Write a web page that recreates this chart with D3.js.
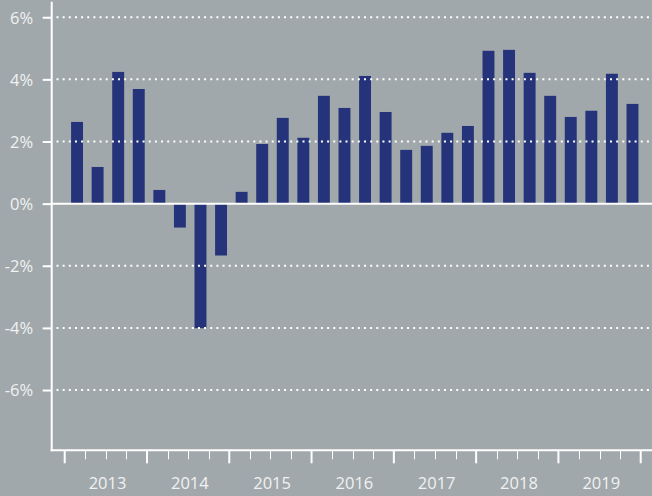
<!DOCTYPE html>
<html>
<head>
<meta charset="utf-8">
<script src="https://cdn.jsdelivr.net/npm/d3@7"></script>
<style>
  body { margin: 0; background: #a1a8ab; }
  svg { display: block; }
  text { font-family: "Open Sans", sans-serif; fill: #f0f2f2; }
</style>
</head>
<body>
<div class="chart"></div>
<script>
// quarterly values, 2013 Q1 .. 2019 Q4 (%)
const years = ["2013", "2014", "2015", "2016", "2017", "2018", "2019"]
const quarters = ["Q1", "Q2", "Q3", "Q4"]
const values = [
    2.63, 1.18, 4.24, 3.69,
    0.44, -0.77, -4.01, -1.67,
    0.38, 1.92, 2.76, 2.12,
    3.47, 3.08, 4.11, 2.95,
    1.73, 1.86, 2.28, 2.50,
    4.92, 4.95, 4.21, 3.47,
    2.79, 2.99, 4.18, 3.21
]
const yTicks = [-6, -4, -2, 0, 2, 4, 6]

const data = []
years.forEach((yr, i) => quarters.forEach((q, j) =>
{
    data.push({ key: yr + q, year: yr, value: values[i * 4 + j] })
}))

const width = 652
const height = 496
const margin = { left: 51.7, top: 1.7, bottom: 45.7 }
const plot = { x0: 64.7, x1: 640.7 }

const svg = d3.select(".chart")
    .append("svg")
    .attr("width", width)
    .attr("height", height)

const xScale = d3.scaleBand()
    .domain(data.map(d => d.key))
    .range([plot.x0, plot.x1])
    .padding(0)

const yearScale = d3.scaleBand()
    .domain(years)
    .range([plot.x0, plot.x1])

const yScale = d3.scaleLinear()
    .domain([-7.94, 6.5])
    .range([height - margin.bottom, margin.top])

const bw = xScale.bandwidth()

// Bars
svg.append("g")
    .selectAll("rect")
    .data(data)
    .join("rect")
      .attr("x", d => xScale(d.key) + bw * 0.31)
      .attr("width", bw * 0.58)
      .attr("y", d => yScale(Math.max(0, d.value)))
      .attr("height", d => Math.abs(yScale(d.value) - yScale(0)))
      .attr("fill", "#25347a")

// dotted gridlines (on top of bars)
svg.append("g")
    .selectAll("line")
    .data(yTicks.filter(d => d !== 0))
    .join("line")
      .attr("x1", 56.5)
      .attr("x2", width)
      .attr("y1", d => yScale(d))
      .attr("y2", d => yScale(d))
      .attr("stroke", "#ffffff")
      .attr("stroke-width", 2)
      .attr("stroke-dasharray", "2 4.15")

// zero line
svg.append("line")
    .attr("x1", margin.left)
    .attr("x2", width)
    .attr("y1", yScale(0))
    .attr("y2", yScale(0))
    .attr("stroke", "#ffffff")
    .attr("stroke-width", 2)

// Y axis
const yAxis = svg.append("g")
    .attr("transform", `translate(${margin.left},0)`)
    .call(d3.axisLeft(yScale)
        .tickValues(yTicks)
        .tickFormat(d => d + "%")
        .tickSize(9)
        .tickPadding(9.5))
yAxis.select(".domain").remove()
yAxis.selectAll(".tick line").attr("stroke", "#ffffff").attr("stroke-width", 2)
yAxis.selectAll(".tick text")
    .attr("font-size", 16.5)
    .attr("font-family", "'Open Sans', sans-serif")
    .attr("fill", "#f0f2f2")
    .attr("dy", "0.36em")

svg.append("line")
    .attr("x1", margin.left)
    .attr("x2", margin.left)
    .attr("y1", margin.top)
    .attr("y2", yScale.range()[0] + 1)
    .attr("stroke", "#ffffff")
    .attr("stroke-width", 2)

// X axis
const axisY = yScale.range()[0]
svg.append("line")
    .attr("x1", margin.left - 1)
    .attr("x2", width)
    .attr("y1", axisY)
    .attr("y2", axisY)
    .attr("stroke", "#ffffff")
    .attr("stroke-width", 2)

// quarter ticks
const boundaries = data.map(d => xScale(d.key)).concat([plot.x1])
svg.append("g")
    .selectAll("line")
    .data(boundaries)
    .join("line")
      .attr("x1", (d, i) => i % 4 === 0 ? d : Math.round(d) + 0.5)
      .attr("x2", (d, i) => i % 4 === 0 ? d : Math.round(d) + 0.5)
      .attr("y1", axisY)
      .attr("y2", (d, i) => axisY + (i % 4 === 0 ? 13 : 9))
      .attr("stroke", "#ffffff")
      .attr("stroke-width", (d, i) => i % 4 === 0 ? 2 : 1)

// year labels
svg.append("g")
    .selectAll("text")
    .data(years)
    .join("text")
      .attr("x", d => yearScale(d) + yearScale.bandwidth() / 2 + 1.7)
      .attr("y", 489)
      .attr("text-anchor", "middle")
      .attr("font-size", 16.5)
      .text(d => d)
</script>
</body>
</html>
